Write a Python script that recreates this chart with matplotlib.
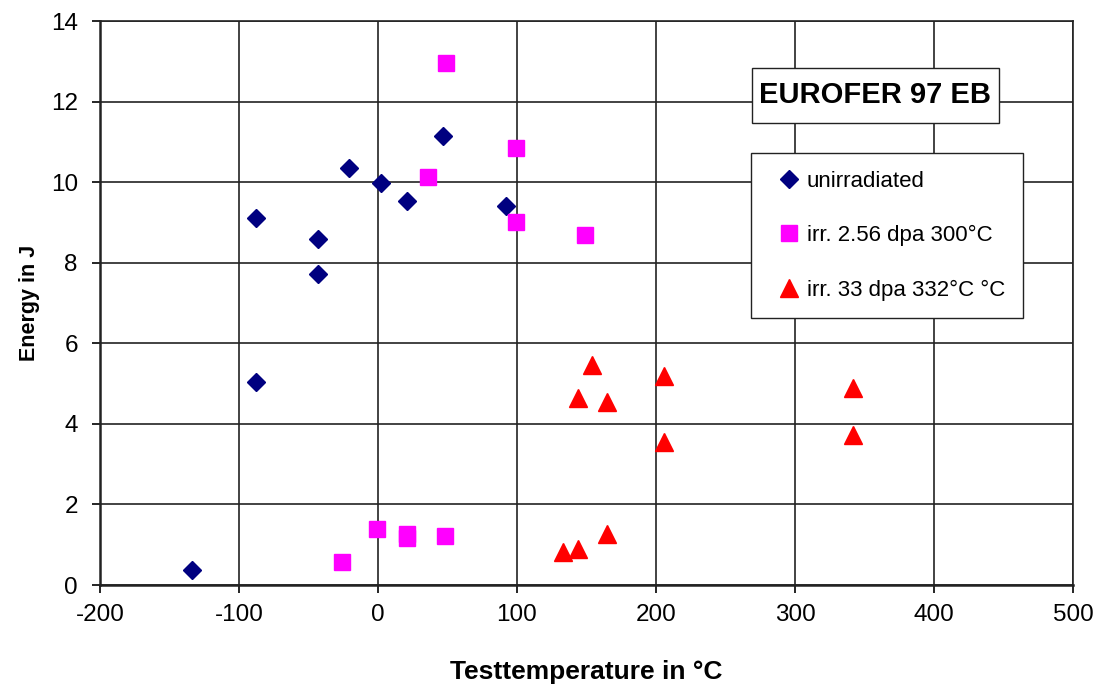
import numpy as np
import matplotlib.pyplot as plt
from matplotlib.patches import Rectangle

plt.rcParams['font.family'] = ['Liberation Sans', 'DejaVu Sans']
plt.rcParams['axes.unicode_minus'] = False

# unirradiated
t_unirr = [-134, -88, -88, -43, -43, -21, 2, 21, 47, 92]
e_unirr = [0.37, 5.05, 9.11, 7.73, 8.59, 10.36, 9.97, 9.54, 11.14, 9.40]

# irr. 2.56 dpa 300°C
t_irr1 = [-26, -1, 21, 21, 48, 36, 49, 99, 99, 149]
e_irr1 = [0.57, 1.38, 1.16, 1.26, 1.21, 10.13, 12.95, 10.84, 9.02, 8.68]

# irr. 33 dpa 332°C
t_irr2 = [133, 144, 165, 144, 154, 165, 206, 206, 342, 342]
e_irr2 = [0.83, 0.89, 1.26, 4.65, 5.46, 4.55, 5.19, 3.56, 4.90, 3.73]

fig = plt.figure(figsize=(11, 6.87), dpi=100)
ax = fig.add_axes([100/1100, 102/687, 973/1100, 564/687])

ax.plot(t_unirr, e_unirr, 'D', color='#000080', markersize=9.5, linestyle='none',
        label='unirradiated', zorder=3)
ax.plot(t_irr1, e_irr1, 's', color='#FF00FF', markersize=12, linestyle='none',
        label='irr. 2.56 dpa 300°C', zorder=3)
ax.plot(t_irr2, e_irr2, '^', color='#FF0000', markersize=13, linestyle='none',
        label='irr. 33 dpa 332°C °C', zorder=3)

ax.set_xlim(-200, 500)
ax.set_ylim(0, 14)
ax.set_xticks(np.arange(-200, 501, 100))
ax.set_yticks(np.arange(0, 15, 2))
ax.grid(True, color='#222222', linewidth=1.2)
ax.set_axisbelow(True)
ax.tick_params(labelsize=17.5, length=6, width=1.2, direction='out')
for s in ax.spines.values():
    s.set_color('#222222')
    s.set_linewidth(1.2)
ax.spines['left'].set_linewidth(1.8)
ax.spines['bottom'].set_linewidth(1.8)
ax.tick_params(axis='x', pad=8)
ax.tick_params(axis='y', pad=10)

ax.set_xlabel('Testtemperature in °C', fontsize=19, fontweight='bold', labelpad=24)
ax.set_ylabel('Energy in J', fontsize=15.5, fontweight='bold', labelpad=8)

# title box
ax.add_patch(Rectangle((0.670, 0.819), 0.254, 0.098, transform=ax.transAxes,
                       facecolor='white', edgecolor='#222222', linewidth=1, zorder=5))
ax.text(0.797, 0.868, 'EUROFER 97 EB', transform=ax.transAxes, ha='center', va='center',
        fontsize=21, fontweight='bold', zorder=6)

leg = ax.legend(loc='upper left', bbox_to_anchor=(651/973, 1 - 132/564), fontsize=16,
                frameon=True, fancybox=False, edgecolor='#222222', framealpha=1,
                borderpad=0.8, labelspacing=1.5, handletextpad=-0.1, handlelength=1.8,
                borderaxespad=0)
leg.get_frame().set_linewidth(1)

fig.savefig('out.png', dpi=100)
